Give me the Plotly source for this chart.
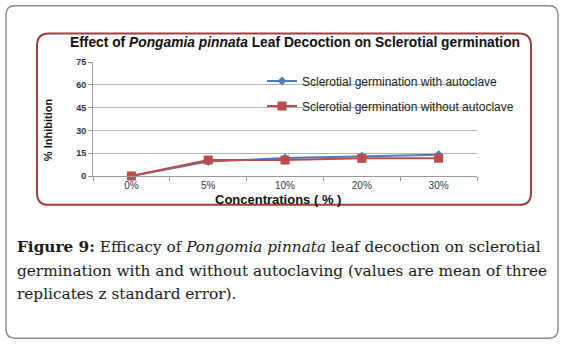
import plotly.graph_objects as go

# ---- data ----
categories = ["0%", "5%", "10%", "20%", "30%"]
with_autoclave = [0, 9.5, 11.8, 13.0, 14.0]
without_autoclave = [0, 10.5, 10.5, 11.6, 11.7]
y_ticks = [0, 15, 30, 45, 60, 75]

series_names = ["Sclerotial germination with autoclave",
                "Sclerotial germination without autoclave"]
chart_title = "<b>Effect of <i>Pongamia pinnata</i> Leaf Decoction on Sclerotial germination</b>"
x_title = "<b>Concentrations ( % )</b>"
y_title = "<b>% Inhibition</b>"
caption_lines = [
    "<b>Figure 9:</b> Efficacy of <i>Pongomia pinnata</i> leaf decoction on sclerotial",
    "germination with and without autoclaving (values are mean of three",
    "replicates z standard error).",
]

# ---- layout geometry (pixels) ----
W, H = 566, 348
L, R, T, B = 93, 477, 61.5, 176


def px(x):
    return (x - L) / (R - L)


def py(y):
    return (B - y) / (B - T)


def rrect(x0, y0, x1, y1, r):
    pts = [
        ("M", [(x0 + r, y0)]),
        ("L", [(x1 - r, y0)]),
        ("Q", [(x1, y0), (x1, y0 + r)]),
        ("L", [(x1, y1 - r)]),
        ("Q", [(x1, y1), (x1 - r, y1)]),
        ("L", [(x0 + r, y1)]),
        ("Q", [(x0, y1), (x0, y1 - r)]),
        ("L", [(x0, y0 + r)]),
        ("Q", [(x0, y0), (x0 + r, y0)]),
    ]
    s = ""
    for cmd, ps in pts:
        s += cmd + " " + " ".join(f"{px(a):.5f},{py(b):.5f}" for a, b in ps) + " "
    return s + "Z"


fig = go.Figure()
fig.add_trace(go.Scatter(
    x=categories, y=with_autoclave, mode="lines+markers", name=series_names[0],
    line=dict(color="#4a7ebb", width=2),
    marker=dict(symbol="diamond", size=7, color="#4a7ebb"),
    cliponaxis=False, legendgroup="a"))
fig.add_trace(go.Scatter(
    x=categories, y=without_autoclave, mode="lines+markers", name=series_names[1],
    line=dict(color="#be4b48", width=2),
    marker=dict(symbol="square", size=9, color="#be4b48"),
    cliponaxis=False, legendgroup="b"))

shapes = [
    dict(type="path", xref="paper", yref="paper", path=rrect(6, 5, 558, 339, 9),
         line=dict(color="#8a8a8a", width=1.5), layer="below"),
    dict(type="path", xref="paper", yref="paper", path=rrect(37, 33, 531, 205, 12),
         line=dict(color="#a33c3c", width=2), layer="below"),
]

annotations = [
    dict(text=chart_title, x=px(295), y=py(42), xref="paper", yref="paper",
         showarrow=False, xanchor="center", yanchor="middle",
         font=dict(family="Liberation Sans", size=13.8, color="#111")),
    dict(text=x_title, x=px(278), y=py(199.5), xref="paper", yref="paper",
         showarrow=False, xanchor="center", yanchor="middle",
         font=dict(family="Liberation Sans", size=13, color="#111")),
    dict(text=y_title, x=px(48), y=py(130), xref="paper", yref="paper",
         showarrow=False, xanchor="center", yanchor="middle", textangle=-90,
         font=dict(family="Liberation Sans Narrow, Liberation Sans", size=11, color="#111")),
]
for i, line in enumerate(caption_lines):
    annotations.append(dict(
        text=line, x=px(15), y=py(247 + 24 * i), xref="paper", yref="paper",
        showarrow=False, xanchor="left", yanchor="middle", align="left",
        font=dict(family="DejaVu Serif", size=15.3, color="#1a1a1a")))

fig.update_layout(
    width=W, height=H, autosize=False,
    margin=dict(l=L, r=W - R, t=T, b=H - B, pad=0),
    paper_bgcolor="white", plot_bgcolor="white",
    showlegend=True,
    legend=dict(x=px(262), y=py(66), xanchor="left", yanchor="top",
                bgcolor="rgba(0,0,0,0)", traceorder="grouped", tracegroupgap=6,
                font=dict(family="Liberation Sans", size=12, color="#222")),
    xaxis=dict(type="category", range=[-0.5, 4.5], showgrid=False,
               showline=True, linecolor="#999", linewidth=1,
               ticks="outside", tickson="boundaries", ticklen=4, tickcolor="#999",
               tickfont=dict(family="Liberation Sans", size=10, color="#2b3a4f")),
    yaxis=dict(range=[0, 75], tickvals=y_ticks, showgrid=True, gridcolor="#b5b5b5",
               gridwidth=1, zeroline=False, showline=True, linecolor="#999",
               ticks="outside", ticklen=4, tickcolor="#999",
               tickfont=dict(family="Liberation Sans", size=9, color="#333", weight="bold")),
    shapes=shapes, annotations=annotations,
)

fig.write_html("out.html", config={"displayModeBar": False},
               post_script="document.body.style.margin='0';document.body.style.overflow='hidden';")
